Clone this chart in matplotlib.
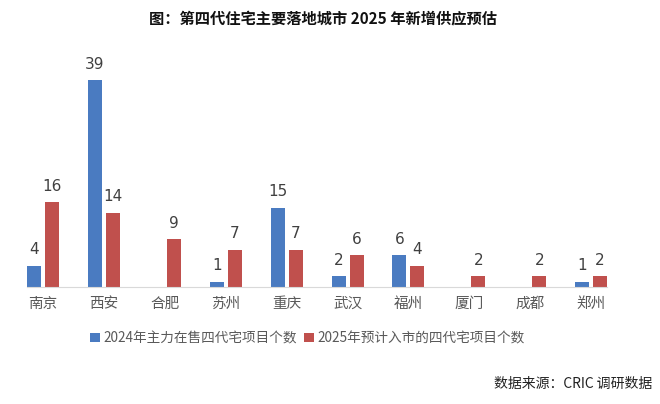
import numpy as np
import matplotlib
matplotlib.use("Agg")
import matplotlib.pyplot as plt

plt.rcParams['font.family'] = ['Noto Sans CJK SC', 'DejaVu Sans']

cities = ['南京', '西安', '合肥', '苏州', '重庆', '武汉', '福州', '厦门', '成都', '郑州']
# None = 该城市没有在售项目, 不画柱也不标数字
sale_2024 = [4, 39, None, 1, 15, 2, 6, None, None, 1]
plan_2025 = [16, 14, 9, 7, 7, 6, 4, 2, 2, 2]
name_2024 = '2024年主力在售四代宅项目个数'
name_2025 = '2025年预计入市的四代宅项目个数'

blue = '#4a7bc1'
red = '#c0504d'

fig = plt.figure(figsize=(6.6, 4.04), dpi=100)
ax = fig.add_axes([0.041, 0.2896, 0.879, 0.551])

x = np.arange(len(cities))
w = 0.23
off = 0.148

xb = np.array([xi for xi, v in zip(x, sale_2024) if v is not None])
vb = [v for v in sale_2024 if v is not None]
bars1 = ax.bar(xb - off, vb, w, color=blue, label=name_2024)
bars2 = ax.bar(x + off, plan_2025, w, color=red, label=name_2025)

for bars in (bars1, bars2):
    for b in bars:
        ax.text(b.get_x() + b.get_width() / 2, b.get_height() + 1.6, str(int(b.get_height())),
                ha='center', va='bottom', fontsize=11, color='#404040', family=['DejaVu Sans'])

ax.set_xlim(-0.265, 9.265)
ax.set_ylim(0, 42)
ax.set_xticks(x)
ax.set_xticklabels(cities, fontsize=10.5, color='#595959')
ax.tick_params(axis='x', length=0, pad=7)
ax.set_yticks([])
for s in ['top', 'right', 'left']:
    ax.spines[s].set_visible(False)
ax.spines['bottom'].set_color('#d9d9d9')

fig.text(0.49, 0.952, '图：第四代住宅主要落地城市 2025 年新增供应预估', ha='center', va='center',
         fontsize=11, fontweight='bold', color='#111111')

leg = fig.legend(loc='center', bbox_to_anchor=(0.466, 0.163), ncol=2, frameon=False,
                 fontsize=9.8, handlelength=0.7, handleheight=0.7, handletextpad=0.3,
                 columnspacing=0.5, labelcolor='#595959')

fig.text(0.988, 0.05, '数据来源：CRIC 调研数据', ha='right', va='center', fontsize=10,
         color='#222222')

fig.savefig('out.png', dpi=100)
